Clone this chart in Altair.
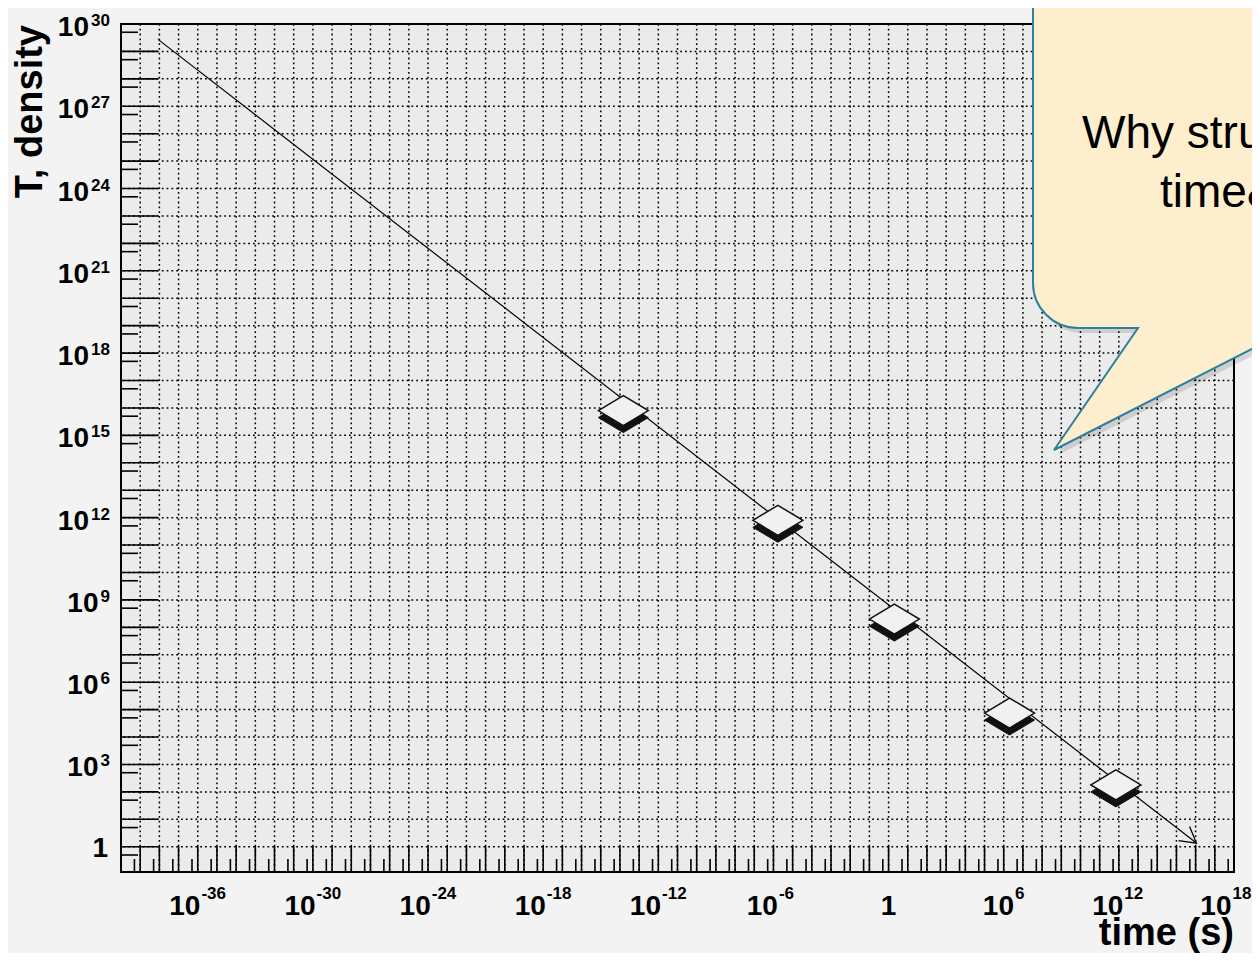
import math
import altair as alt
import numpy as np
import pandas as pd

# ---------------- values ----------------
POINT_TIME = [1.5e-14, 1.7e-6, 2.0, 2.0e6, 7.0e11]
POINT_VALUE = [8.0e15, 8.0e11, 2.0e8, 7.5e4, 1.8e2]
LINE_TIME = [8.5e-39, 1.1e16]
LINE_VALUE = [2.75e29, 1.36]
X_LABEL_EXP = [-36, -30, -24, -18, -12, -6, 0, 6, 12, 18]
Y_LABEL_EXP = [0, 3, 6, 9, 12, 15, 18, 21, 24, 27, 30]
X_DECADES = list(range(-39, 18))
X_MINOR = list(range(-39, 19))   # minor ticks at 5 x 10^(k-1)
Y_DECADES = list(range(0, 30))
Y_MINOR = list(range(0, 31))
X_DOMAIN = [1e-40, 1e18]
Y_DOMAIN = [0.12, 1e30]
X_TITLE = "time (s)"
Y_TITLE = "T, density"
CALLOUT_LINES = ["Why stru", "time&"]

# ---------------- layout / style ----------------
W, H = 1113, 848
PAD = {"left": 113, "top": 16, "right": 18, "bottom": 81}
FONT = "Liberation Sans"
GRID = dict(color="#000000", strokeWidth=1.5, strokeDash=[1.8, 3.0])

xs = alt.Scale(type="log", domain=X_DOMAIN, nice=False)
ys = alt.Scale(type="log", domain=Y_DOMAIN, nice=False)


def X(f):
    return alt.X(f, type="quantitative", scale=xs, axis=None)


def Y(f):
    return alt.Y(f, type="quantitative", scale=ys, axis=None)


xdec = pd.DataFrame({"v": [10.0 ** k for k in X_DECADES]})
ydec = pd.DataFrame({"v": [10.0 ** k for k in Y_DECADES]})
xmin_df = pd.DataFrame({"v": [5 * 10.0 ** (k - 1) for k in X_MINOR]})
ymin_df = pd.DataFrame({"v": [5 * 10.0 ** (k - 1) for k in Y_MINOR]})

layers = []

# grid
layers.append(alt.Chart(xdec).mark_rule(**GRID).encode(x=X("v")))
layers.append(alt.Chart(ydec).mark_rule(**GRID).encode(y=Y("v")))

# ticks (drawn inward, ROOT style)
layers.append(alt.Chart(xdec).mark_rule(color="black", strokeWidth=1.6).encode(
    x=X("v"), y=alt.value(H), y2=alt.value(H - 26)))
layers.append(alt.Chart(xmin_df).mark_rule(color="black", strokeWidth=1.6).encode(
    x=X("v"), y=alt.value(H), y2=alt.value(H - 13)))
layers.append(alt.Chart(ydec).mark_rule(color="black", strokeWidth=1.6).encode(
    y=Y("v"), x=alt.value(0), x2=alt.value(37)))
layers.append(alt.Chart(ymin_df).mark_rule(color="black", strokeWidth=1.6).encode(
    y=Y("v"), x=alt.value(0), x2=alt.value(17)))

# arrow line
line_df = pd.DataFrame({"t": LINE_TIME, "v": LINE_VALUE})
layers.append(alt.Chart(line_df).mark_line(color="black", strokeWidth=1.2).encode(
    x=X("t"), y=Y("v")))

ppd_x = W / (math.log10(X_DOMAIN[1]) - math.log10(X_DOMAIN[0]))
ppd_y = H / (math.log10(Y_DOMAIN[1]) - math.log10(Y_DOMAIN[0]))
ddx = (math.log10(LINE_TIME[1]) - math.log10(LINE_TIME[0])) * ppd_x
ddy = (math.log10(LINE_VALUE[0]) - math.log10(LINE_VALUE[1])) * ppd_y
ARROW_ANGLE = math.degrees(math.atan2(ddy, ddx))
ARROW_HEAD = "M -15.6 -9 L 0 0 L -15.6 9"
layers.append(alt.Chart(line_df.tail(1)).mark_point(
    shape=ARROW_HEAD, size=4, filled=False, stroke="black", strokeWidth=1.3,
    opacity=1, angle=ARROW_ANGLE).encode(x=X("t"), y=Y("v")))

# diamonds with dark "extruded" shadow
pts = pd.DataFrame({"t": POINT_TIME, "v": POINT_VALUE})
DIAMOND = "M -25 0 L 0 -15 L 25 0 L 0 15 Z"
DIAMOND_SHADOW = "M -25 7 L 0 -8 L 25 7 L 0 22 Z"
layers.append(alt.Chart(pts).mark_point(
    shape=DIAMOND_SHADOW, size=4, filled=True, fill="#111111", stroke="#111111",
    strokeWidth=1, opacity=1).encode(x=X("t"), y=Y("v")))
layers.append(alt.Chart(pts).mark_point(
    shape=DIAMOND, size=4, filled=True, fill="#f1f1f1", stroke="#111111",
    strokeWidth=1.5, opacity=1).encode(x=X("t"), y=Y("v")))

# tick labels: "10" with superscript exponent
xl = pd.DataFrame({"e": X_LABEL_EXP})
xl["v"] = 10.0 ** xl["e"].astype(float)
xl["base"] = np.where(xl["e"] == 0, "1", "10")
xl["sup"] = np.where(xl["e"] == 0, "", xl["e"].astype(str))

yl = pd.DataFrame({"e": Y_LABEL_EXP})
yl["v"] = 10.0 ** yl["e"].astype(float)
yl["base"] = np.where(yl["e"] == 0, "1", "10")
yl["sup"] = np.where(yl["e"] == 0, "", yl["e"].astype(str))

BIG = dict(font=FONT, fontWeight="bold", fontSize=28, color="black")
SMALL = dict(font=FONT, fontWeight="bold", fontSize=17, color="black")

layers.append(alt.Chart(xl).transform_filter("datum.e == 0").mark_text(
    align="center", baseline="alphabetic", **BIG).encode(
    x=X("v"), y=alt.value(H + 43), text="base:N"))
X_LAST = max(X_LABEL_EXP)
X_GROUPS = [
    (f"datum.e != 0 && datum.e != {X_LAST} && length(datum.sup) == 1", 10.3),
    (f"datum.e != 0 && datum.e != {X_LAST} && length(datum.sup) == 2", 4.5),
    (f"datum.e != 0 && datum.e != {X_LAST} && length(datum.sup) == 3", 2.7),
    (f"datum.e == {X_LAST}", -2.5),   # kept inside the page edge
]
for cond, dxv in X_GROUPS:
    layers.append(alt.Chart(xl).transform_filter(cond).mark_text(
        align="right", baseline="alphabetic", dx=dxv, **BIG).encode(
        x=X("v"), y=alt.value(H + 43), text="base:N"))
    layers.append(alt.Chart(xl).transform_filter(cond).mark_text(
        align="left", baseline="alphabetic", dx=dxv + 1.0, **SMALL).encode(
        x=X("v"), y=alt.value(H + 27), text="sup:N"))

layers.append(alt.Chart(yl).transform_filter("datum.e == 0").mark_text(
    align="right", baseline="alphabetic", dy=10, **BIG).encode(
    x=alt.value(-13), y=Y("v"), text="base:N"))
Y_BASE_X = {1: -22.5, 2: -32}
for n, xv in Y_BASE_X.items():
    cond = f"datum.e != 0 && length(datum.sup) == {n}"
    layers.append(alt.Chart(yl).transform_filter(cond).mark_text(
        align="right", baseline="alphabetic", dy=12, **BIG).encode(
        x=alt.value(xv), y=Y("v"), text="base:N"))
    layers.append(alt.Chart(yl).transform_filter(cond).mark_text(
        align="right", baseline="alphabetic", dy=2, **SMALL).encode(
        x=alt.value(-11), y=Y("v"), text="sup:N"))

# axis titles
TITLE = dict(font=FONT, fontWeight="bold", fontSize=38, color="black")
layers.append(alt.Chart(pd.DataFrame({"s": [X_TITLE]})).mark_text(
    align="right", baseline="alphabetic", **TITLE).encode(
    x=alt.value(W), y=alt.value(H + 73), text="s:N"))
layers.append(alt.Chart(pd.DataFrame({"s": [Y_TITLE]})).mark_text(
    align="right", baseline="alphabetic", angle=270, **TITLE).encode(
    x=alt.value(-79), y=alt.value(1), text="s:N"))

# speech-bubble callout (annotation, pixel path relative to plot origin)
BUBBLE = ("M 957 304 L 1017 304 L 933 426 L 1172 304 L 1290 304 L 1290 -40 "
          "L 912 -40 L 912 259 A 45 45 0 0 0 957 304 Z")
anno = pd.DataFrame({"k": [0]})
layers.append(alt.Chart(anno).mark_point(
    shape=BUBBLE, size=4, filled=True, fill="#000000", strokeWidth=0,
    opacity=0.12).encode(x=alt.value(4), y=alt.value(5)))
layers.append(alt.Chart(anno).mark_point(
    shape=BUBBLE, size=4, filled=True, fill="#fdefcd", stroke="#2f7f9f",
    strokeWidth=2, opacity=1).encode(x=alt.value(0), y=alt.value(0)))
CALLOUT = dict(font=FONT, fontSize=46, color="black", align="left", baseline="alphabetic")
layers.append(alt.Chart(pd.DataFrame({"s": [CALLOUT_LINES[0]]})).mark_text(**CALLOUT).encode(
    x=alt.value(961), y=alt.value(124), text="s:N"))
layers.append(alt.Chart(pd.DataFrame({"s": [CALLOUT_LINES[1]]})).mark_text(**CALLOUT).encode(
    x=alt.value(1039), y=alt.value(183), text="s:N"))

chart = alt.layer(*layers).properties(
    width=W, height=H,
    autosize=alt.AutoSizeParams(type="none"),
    padding=PAD,
    background="#f3f3f3",
).configure_view(fill="#ebebeb", stroke="black", strokeWidth=2)

chart.save("out.html", embed_options={"renderer": "svg", "actions": False})
